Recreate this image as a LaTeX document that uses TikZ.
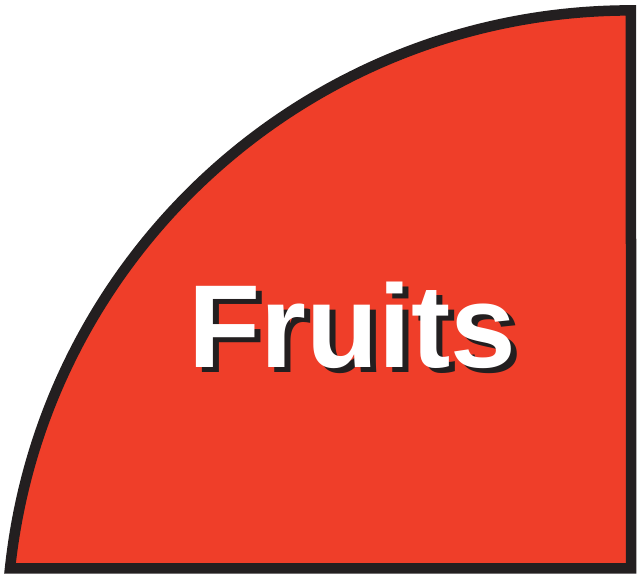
\documentclass[tikz,border=0pt]{standalone}
\usepackage{fontspec}
\setmainfont{Liberation Sans}
\definecolor{fruitred}{RGB}{239,62,41}
\definecolor{edgeblack}{RGB}{35,31,32}
\tikzset{
  sector/.style={fill=fruitred, draw=edgeblack, line width=10.5pt, line join=miter},
  labeltext/.style={anchor=base, inner sep=0pt, font=\fontsize{118}{118}\selectfont\bfseries}
}
\begin{document}
\begin{tikzpicture}[x=1pt,y=1pt]
\useasboundingbox (0,0) rectangle (637,580);
\draw[sector] (10,11.5) arc[start angle=173.89, end angle=90, radius=624.55] -- (631,11.5) -- cycle;
\node[labeltext, text=edgeblack] (shadow) at (358,207) {Fruits};
\node[labeltext, text=white] (label) at (352,212) {Fruits};
\end{tikzpicture}
\end{document}
